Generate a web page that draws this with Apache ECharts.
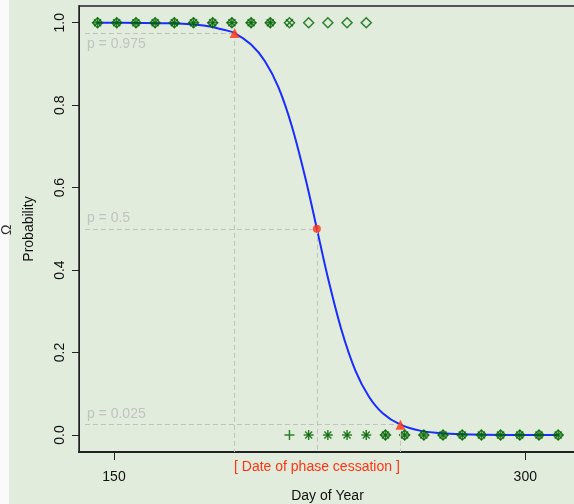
<!DOCTYPE html>
<html>
<head>
<meta charset="utf-8">
<script src="https://cdn.jsdelivr.net/npm/echarts@6/dist/echarts.min.js"></script>
<style>
html, body { margin: 0; padding: 0; background: #fafafa; }
#chart { width: 574px; height: 504px; }
</style>
</head>
<body>
<div id="chart"></div>
<script>
// weekly observations, present (p = 1) / absent (p = 0), one pair per symbol
var plusOn = [144, 151, 158, 165, 172, 179, 186, 193, 200, 207];
var plusOff = [214, 221, 228, 235, 242, 249, 256, 263, 270, 277, 284, 291, 298, 305, 312];
var crossOn = [144, 151, 158, 165, 172, 179, 186, 193, 200, 207, 214];
var crossOff = [221, 228, 235, 242, 249, 256, 263, 270, 277, 284, 291, 298, 305, 312];
var diamondOn = [144, 151, 158, 165, 172, 179, 186, 193, 200, 207, 214, 221, 228, 235, 242];
var diamondOff = [249, 256, 263, 270, 277, 284, 291, 298, 305, 312];

// fitted curve
var curveDays = [144, 160, 170, 180, 185, 190, 194, 200, 205, 210, 215, 220, 224, 228, 233, 238, 243, 248, 254.5, 262, 270, 280, 295, 312];
var curveProb = [1.0, 0.9995, 0.9985, 0.995, 0.991, 0.983, 0.975, 0.947, 0.907, 0.843, 0.746, 0.618, 0.5, 0.382, 0.254, 0.157, 0.093, 0.053, 0.025, 0.010, 0.004, 0.001, 0.0002, 0.0];

// threshold points
var threshDays = [194, 224, 254.5];
var threshProb = [0.975, 0.5, 0.025];
var threshSymbol = ['triangle', 'circle', 'triangle'];

var xTicks = [150, 300];
var yTicks = [0, 0.2, 0.4, 0.6, 0.8, 1.0];

var xMin = 137.24, xMax = 318.5, yMin = -0.0412, yMax = 1.0405;
var guideStart = 139.4;
var green = '#006400', red = '#ff3311', guide = '#c2c2c2';

function pts(on, off) {
    var out = [];
    on.forEach(function (d) { out.push([d, 1]); });
    off.forEach(function (d) { out.push([d, 0]); });
    return out;
}

function marks(symbol, size, data) {
    return {
        type: 'scatter',
        symbol: symbol,
        symbolSize: size,
        data: data,
        z: 4,
        silent: true,
        itemStyle: { color: 'none', borderColor: green, borderWidth: 1.5 }
    };
}

// dashed guides and their labels
var guideLines = [];
threshDays.forEach(function (d, i) {
    guideLines.push([{
        coord: [guideStart, threshProb[i]],
        label: {
            show: true,
            formatter: 'p = ' + threshProb[i],
            position: i === 0 ? 'insideStartBottom' : 'insideStartTop',
            distance: [2, 4],
            color: guide,
            fontSize: 14
        }
    }, { coord: [d, threshProb[i]] }]);
    guideLines.push([{
        coord: [d, threshProb[i]],
        label: i === 1 ? {
            show: true,
            formatter: '[ Date of phase cessation ]',
            position: 'end',
            distance: 8,
            color: red,
            fontSize: 14
        } : { show: false }
    }, { coord: [d, yMin] }]);
});

var chart = echarts.init(document.getElementById('chart'));
chart.setOption({
    backgroundColor: '#fafafa',
    animation: false,
    textStyle: { fontFamily: 'Liberation Sans, Arial, sans-serif' },
    graphic: [
        { type: 'rect', z: -10, silent: true, shape: { x: 9, y: 0, width: 565, height: 504 }, style: { fill: '#e1ecdc' } },
        { type: 'text', x: 0, y: 235, rotation: Math.PI / 2, silent: true, style: { text: 'Ω', fill: '#333', fontSize: 14, fontFamily: 'Liberation Sans' } }
    ],
    grid: {
        left: 79, right: -2, top: 6, bottom: 52,
        outerBoundsMode: 'none', containLabel: false,
        show: true, borderColor: '#555', borderWidth: 2, backgroundColor: 'transparent'
    },
    xAxis: {
        type: 'value', min: xMin, max: xMax,
        name: 'Day of Year', nameLocation: 'middle', nameGap: 35,
        nameTextStyle: { color: '#111', fontSize: 14 },
        axisLine: { show: true, onZero: false, lineStyle: { color: '#222', width: 2 } },
        axisTick: { show: true, customValues: xTicks, length: 8, lineStyle: { color: '#222' } },
        axisLabel: { customValues: xTicks, margin: 18, color: '#111', fontSize: 14 },
        splitLine: { show: false }
    },
    yAxis: {
        type: 'value', min: yMin, max: yMax,
        name: 'Probability', nameLocation: 'middle', nameGap: 43,
        nameTextStyle: { color: '#111', fontSize: 14 },
        axisLine: { show: true, onZero: false, lineStyle: { color: '#222', width: 1 } },
        axisTick: { show: true, customValues: yTicks, length: 7, lineStyle: { color: '#222' } },
        axisLabel: {
            customValues: yTicks, rotate: 90, margin: 12, color: '#111', fontSize: 14,
            formatter: function (v) { return v.toFixed(1); }
        },
        splitLine: { show: false }
    },
    series: [
        {
            type: 'line',
            data: curveDays.map(function (d, i) { return [d, curveProb[i]]; }),
            smooth: 0.3,
            showSymbol: false,
            z: 3,
            lineStyle: { color: '#1a2cff', width: 2 }
        },
        marks('path://M0,5L10,5M5,0L5,10', 10, pts(plusOn, plusOff)),
        marks('path://M0,0L10,10M0,10L10,0', 7, pts(crossOn, crossOff)),
        marks('diamond', 10, pts(diamondOn, diamondOff)),
        {
            type: 'scatter',
            z: 5,
            data: threshDays.map(function (d, i) {
                return { value: [d, threshProb[i]], symbol: threshSymbol[i], symbolSize: threshSymbol[i] === 'circle' ? 8 : 10 };
            }),
            itemStyle: { color: red },
            markLine: {
                silent: true,
                symbol: ['none', 'none'],
                lineStyle: { color: guide, type: [5, 3], width: 1 },
                label: { show: false },
                data: guideLines
            }
        }
    ]
});
</script>
</body>
</html>
